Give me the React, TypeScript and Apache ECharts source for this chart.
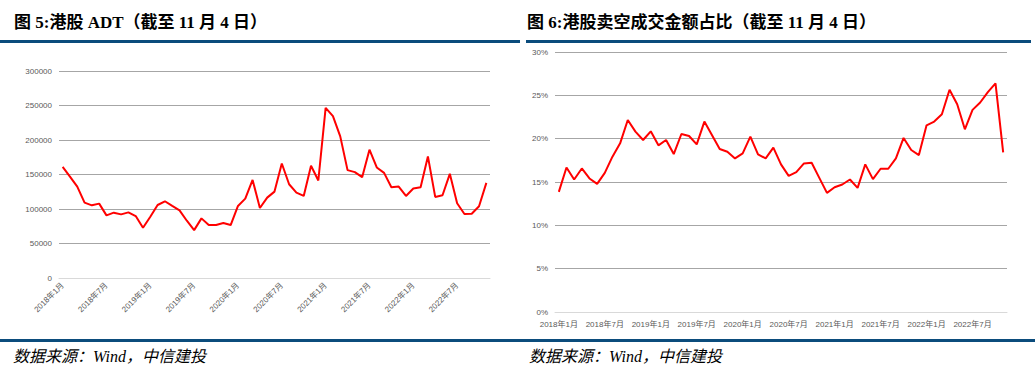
import React, { useEffect, useRef } from "react";
import * as echarts from "echarts";

const months: string[] = [];
for (let y = 2018; y <= 2022; y++) {
  for (let m = 1; m <= 12; m++) {
    if (y === 2022 && m > 11) break;
    months.push(`${y}年${m}月`);
  }
}

const adtValues = [
  161000, 147000, 132500, 109200, 105300, 107800, 90800, 94700, 92200, 95100,
  89800, 72800, 88800, 105800, 111200, 104400, 98000, 83000, 69400, 86400,
  76700, 76700, 79600, 76700, 104400, 115000, 142200, 101500, 116500, 125200,
  166000, 135900, 123800, 118900, 162600, 141300, 246600, 234500, 205300, 156300,
  153400, 146100, 185900, 160200, 152400, 131600, 132500, 118900, 129600, 131600,
  176200, 117500, 119900, 151000, 108300, 92700, 93200, 103900, 137900,
];

const shortRatio = [
  13.86, 16.68, 15.29, 16.56, 15.41, 14.79, 16.06, 17.92, 19.46, 22.16,
  20.81, 19.85, 20.85, 19.23, 19.85, 18.22, 20.54, 20.31, 19.34, 21.97,
  20.39, 18.8, 18.49, 17.72, 18.3, 20.23, 18.19, 17.72, 18.96, 17.03,
  15.71, 16.14, 17.14, 17.22, 15.48, 13.75, 14.4, 14.71, 15.29, 14.32,
  17.03, 15.33, 16.53, 16.53, 17.72, 20.08, 18.69, 18.11, 21.54, 21.97,
  22.82, 25.64, 23.98, 21.08, 23.32, 24.17, 25.37, 26.37, 18.42,
];

const titleLeft = "图 5:港股 ADT（截至 11 月 4 日）";
const titleRight = "图 6:港股卖空成交金额占比（截至 11 月 4 日）";
const sourceText = "数据来源：Wind，中信建投";

const BLUE = "#0b4c7c";
const GRID = "#a6a6a6";
const LABEL = "#595959";
const TITLE_FONT = '"Liberation Serif", "Noto Sans CJK SC", serif';
const AXIS_FONT = '"Liberation Sans", "Noto Sans CJK SC", sans-serif';

export default function App() {
  const ref = useRef<HTMLDivElement>(null);
  useEffect(() => {
    if (!ref.current) return;
    const chart = echarts.init(ref.current, undefined, { renderer: "svg" });
    const xAxisCommon = {
      type: "category" as const,
      data: months,
      boundaryGap: true,
      axisLine: { lineStyle: { color: "#d9d9d9" } },
      axisTick: { interval: 5, length: 4, lineStyle: { color: "#d9d9d9" } },
    };
    const yAxisCommon = {
      type: "value" as const,
      min: 0,
      axisLine: { show: false },
      axisTick: { show: false },
      splitLine: { lineStyle: { color: GRID, width: 1 } },
    };
    chart.setOption({
      animation: false,
      backgroundColor: "#ffffff",
      grid: [
        { left: 59, top: 71, width: 431, height: 207 },
        { left: 555, top: 52, width: 452, height: 260 },
      ],
      xAxis: [
        {
          ...xAxisCommon,
          gridIndex: 0,
          axisLabel: {
            interval: 5,
            rotate: 45,
            color: LABEL,
            fontSize: 8,
            fontFamily: AXIS_FONT,
            margin: 6,
            hideOverlap: false,
          },
        },
        {
          ...xAxisCommon,
          gridIndex: 1,
          axisLabel: {
            interval: 5,
            color: LABEL,
            fontSize: 8,
            fontFamily: AXIS_FONT,
            margin: 8,
            hideOverlap: false,
          },
        },
      ],
      yAxis: [
        {
          ...yAxisCommon,
          gridIndex: 0,
          max: 300000,
          interval: 50000,
          axisLabel: {
            color: LABEL,
            fontSize: 8,
            fontFamily: AXIS_FONT,
            margin: 7,
            formatter: (v: number) => String(v),
          },
        },
        {
          ...yAxisCommon,
          gridIndex: 1,
          max: 30,
          interval: 5,
          axisLabel: {
            color: LABEL,
            fontSize: 8,
            fontFamily: AXIS_FONT,
            margin: 7,
            formatter: "{value}%",
          },
        },
      ],
      series: [
        {
          type: "line",
          xAxisIndex: 0,
          yAxisIndex: 0,
          data: adtValues,
          showSymbol: false,
          lineStyle: { color: "#ff0000", width: 2 },
          itemStyle: { color: "#ff0000" },
        },
        {
          type: "line",
          xAxisIndex: 1,
          yAxisIndex: 1,
          data: shortRatio,
          showSymbol: false,
          lineStyle: { color: "#ff0000", width: 2 },
          itemStyle: { color: "#ff0000" },
        },
      ],
      graphic: [
        {
          type: "text",
          left: 14,
          top: 14,
          style: {
            text: titleLeft,
            font: `bold 17px ${TITLE_FONT}`,
            fill: "#000000",
          },
        },
        {
          type: "text",
          left: 527,
          top: 14,
          style: {
            text: titleRight,
            font: `bold 17px ${TITLE_FONT}`,
            fill: "#000000",
          },
        },
        {
          type: "rect",
          shape: { x: 0, y: 40, width: 520, height: 3 },
          style: { fill: BLUE },
        },
        {
          type: "rect",
          shape: { x: 526, y: 40, width: 505, height: 3 },
          style: { fill: BLUE },
        },
        {
          type: "rect",
          shape: { x: 0, y: 339, width: 1035, height: 3 },
          style: { fill: BLUE },
        },
        {
          type: "text",
          left: 13,
          top: 348,
          style: {
            text: sourceText,
            font: `italic 16px ${TITLE_FONT}`,
            fill: "#000000",
          },
        },
        {
          type: "text",
          left: 529,
          top: 348,
          style: {
            text: sourceText,
            font: `italic 16px ${TITLE_FONT}`,
            fill: "#000000",
          },
        },
      ],
    });
    return () => chart.dispose();
  }, []);
  return (
    <div
      ref={ref}
      style={{ position: "fixed", left: 0, top: 0, width: 1035, height: 378 }}
    />
  );
}
